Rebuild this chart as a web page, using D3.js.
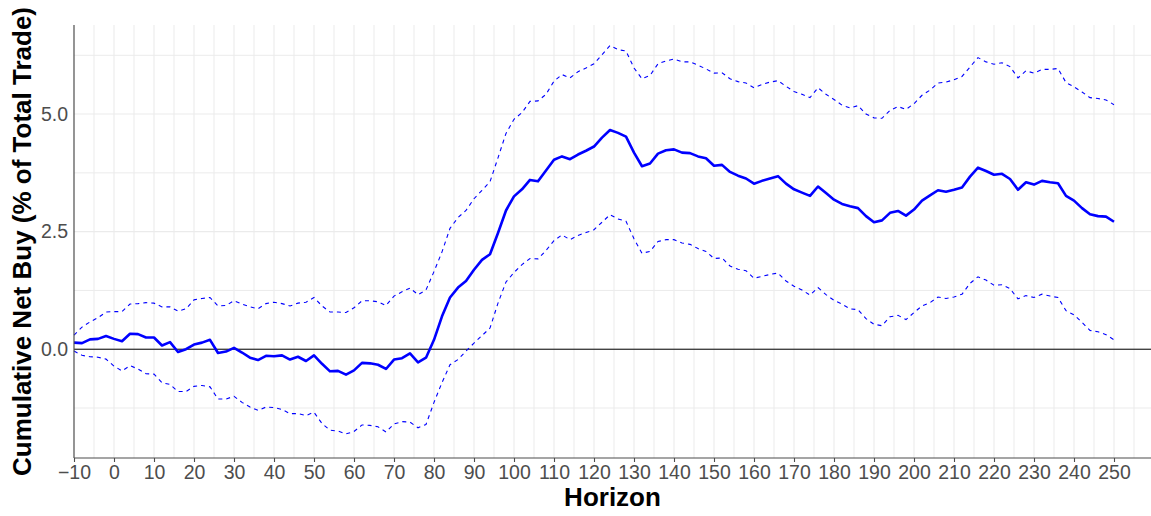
<!DOCTYPE html>
<html>
<head>
<meta charset="utf-8">
<script src="https://cdn.jsdelivr.net/npm/d3@7"></script>
<style>
  html, body { margin: 0; padding: 0; background: #fff; }
  svg { display: block; font-family: "Liberation Sans", Arial, sans-serif; }
</style>
</head>
<body>
<svg id="chart" width="1151" height="516"></svg>
<script>
// ---- data ----
const horizon = d3.range(-10, 251, 2);
const meanBuy = [0.14,0.13,0.21,0.22,0.28,0.22,0.17,0.33,0.32,0.25,0.25,0.08,0.15,-0.06,0.0,0.1,0.14,0.2,-0.08,-0.05,
  0.03,-0.07,-0.18,-0.23,-0.14,-0.15,-0.13,-0.22,-0.16,-0.25,-0.13,-0.31,-0.47,-0.46,-0.54,-0.45,-0.29,-0.30,-0.33,-0.42,
  -0.22,-0.19,-0.09,-0.28,-0.18,0.2,0.7,1.1,1.31,1.45,1.69,1.9,2.02,2.47,2.95,3.25,3.4,3.6,3.57,3.8,
  4.03,4.1,4.04,4.14,4.22,4.31,4.5,4.66,4.6,4.52,4.18,3.89,3.95,4.16,4.23,4.25,4.18,4.17,4.1,4.06,
  3.9,3.92,3.77,3.69,3.63,3.52,3.58,3.63,3.68,3.52,3.4,3.33,3.26,3.46,3.32,3.18,3.09,3.04,3.0,2.83,
  2.7,2.74,2.9,2.94,2.84,2.97,3.16,3.27,3.38,3.35,3.39,3.44,3.67,3.86,3.79,3.71,3.73,3.62,3.39,3.55,
  3.5,3.58,3.55,3.53,3.26,3.16,3.0,2.87,2.83,2.82,2.71];
const upperBuy = [0.30,0.47,0.58,0.67,0.79,0.8,0.8,0.96,0.97,0.99,0.98,0.9,0.9,0.81,0.86,1.05,1.08,1.1,0.92,0.93,
  1.03,0.96,0.9,0.86,0.97,1.0,0.97,0.92,0.98,1.0,1.1,0.92,0.79,0.79,0.78,0.88,1.03,1.03,1.01,0.93,
  1.13,1.22,1.3,1.16,1.26,1.65,2.07,2.57,2.8,2.95,3.2,3.38,3.56,4.07,4.59,4.89,5.03,5.27,5.28,5.42,
  5.7,5.84,5.77,5.9,5.98,6.07,6.26,6.46,6.37,6.34,5.98,5.75,5.82,6.07,6.13,6.17,6.11,6.11,6.04,5.96,
  5.87,5.88,5.75,5.69,5.66,5.56,5.63,5.68,5.71,5.59,5.48,5.42,5.35,5.56,5.42,5.31,5.19,5.13,5.18,5.0,
  4.92,4.91,5.08,5.16,5.1,5.22,5.4,5.51,5.66,5.68,5.73,5.8,6.0,6.2,6.11,6.06,6.09,6.01,5.77,5.92,
  5.87,5.95,5.95,5.97,5.67,5.58,5.47,5.35,5.33,5.3,5.2];
const lowerBuy = [-0.04,-0.13,-0.16,-0.17,-0.21,-0.36,-0.46,-0.35,-0.42,-0.52,-0.53,-0.71,-0.75,-0.9,-0.9,-0.79,-0.77,-0.8,-1.06,-1.06,
  -1.0,-1.13,-1.23,-1.3,-1.23,-1.24,-1.28,-1.37,-1.37,-1.41,-1.34,-1.58,-1.72,-1.74,-1.8,-1.75,-1.61,-1.62,-1.65,-1.76,
  -1.59,-1.54,-1.55,-1.67,-1.6,-1.13,-0.71,-0.33,-0.22,-0.04,0.13,0.29,0.45,0.98,1.43,1.63,1.8,1.93,1.92,2.1,
  2.31,2.43,2.33,2.42,2.48,2.54,2.7,2.86,2.77,2.72,2.35,2.04,2.08,2.29,2.33,2.33,2.26,2.23,2.14,2.08,
  1.93,1.94,1.77,1.7,1.67,1.51,1.55,1.59,1.62,1.45,1.34,1.26,1.15,1.31,1.16,1.04,0.96,0.86,0.84,0.65,
  0.53,0.5,0.69,0.72,0.63,0.78,0.92,0.99,1.11,1.08,1.11,1.17,1.4,1.54,1.47,1.36,1.37,1.29,1.07,1.14,
  1.1,1.17,1.13,1.1,0.82,0.73,0.57,0.4,0.37,0.31,0.2];
const xTicks = d3.range(-10, 251, 10);
const xMinor = d3.range(-5, 260, 10);
const yTicks = [0, 2.5, 5.0];
const yMinor = [-1.25, 1.25, 3.75, 6.25];
const xTitle = "Horizon";
const yTitle = "Cumulative Net Buy (% of Total Trade)";

// ---- layout ----
const svg = d3.select("#chart");
const L = 74, R = 1151, T = 25, B = 458;
const x = d3.scaleLinear().domain([-10, 259.25]).range([L, R]);
const y = d3.scaleLinear().domain([-2.313, 6.894]).range([B, T]);

const grid = svg.append("g");
grid.selectAll(".vmin").data(xMinor).join("line")
  .attr("x1", d => x(d)).attr("x2", d => x(d)).attr("y1", T).attr("y2", B)
  .attr("stroke", "#ebebeb").attr("stroke-width", 1);
grid.selectAll(".vmaj").data(xTicks.filter(d => d > -10)).join("line")
  .attr("x1", d => x(d)).attr("x2", d => x(d)).attr("y1", T).attr("y2", B)
  .attr("stroke", "#ebebeb").attr("stroke-width", 1.1);
grid.selectAll(".hmin").data(yMinor).join("line")
  .attr("x1", L).attr("x2", R).attr("y1", d => y(d)).attr("y2", d => y(d))
  .attr("stroke", "#ebebeb").attr("stroke-width", 1);
grid.selectAll(".hmaj").data(yTicks).join("line")
  .attr("x1", L).attr("x2", R).attr("y1", d => y(d)).attr("y2", d => y(d))
  .attr("stroke", "#ebebeb").attr("stroke-width", 1.1);

// zero line
svg.append("line").attr("x1", L).attr("x2", R).attr("y1", y(0)).attr("y2", y(0))
  .attr("stroke", "#000").attr("stroke-width", 1);

// series
const mk = vals => d3.line().x((d, i) => x(horizon[i])).y(d => y(d))(vals);
svg.append("path").attr("d", mk(upperBuy)).attr("fill", "none")
  .attr("stroke", "#0000ff").attr("stroke-width", 1.1).attr("stroke-dasharray", "4,4");
svg.append("path").attr("d", mk(lowerBuy)).attr("fill", "none")
  .attr("stroke", "#0000ff").attr("stroke-width", 1.1).attr("stroke-dasharray", "4,4");
svg.append("path").attr("d", mk(meanBuy)).attr("fill", "none")
  .attr("stroke", "#0000ff").attr("stroke-width", 2.6).attr("stroke-linejoin", "round");

// axes
const xAxis = svg.append("g").attr("transform", `translate(0,${B})`)
  .call(d3.axisBottom(x).tickValues(xTicks).tickSize(4).tickPadding(3)
    .tickFormat(d => d < 0 ? "\u2212" + Math.abs(d) : d));
xAxis.select(".domain").attr("stroke", "#4d4d4d").attr("stroke-width", 1.2).attr("d", `M${L},0H${R}`);
xAxis.selectAll(".tick line").attr("stroke", "#4d4d4d").attr("stroke-width", 1.1);
xAxis.selectAll(".tick text").attr("fill", "#4d4d4d").attr("font-size", 19.5)
  .attr("font-family", "Liberation Sans, Arial, sans-serif");

const yAxis = svg.append("g").attr("transform", `translate(${L},0)`)
  .call(d3.axisLeft(y).tickValues(yTicks).tickSize(0).tickPadding(6).tickFormat(d3.format(".1f")));
yAxis.select(".domain").attr("stroke", "#4d4d4d").attr("stroke-width", 1.2).attr("d", `M0,${T}V${B}`);
yAxis.selectAll(".tick text").attr("fill", "#4d4d4d").attr("font-size", 19.5)
  .attr("font-family", "Liberation Sans, Arial, sans-serif");

// titles
svg.append("text").attr("x", (L + R) / 2).attr("y", 506).attr("text-anchor", "middle")
  .attr("font-size", 26).attr("font-weight", "bold").attr("fill", "#000").text(xTitle);
svg.append("text").attr("transform", `translate(31,${(T + B) / 2}) rotate(-90)`)
  .attr("text-anchor", "middle").attr("font-size", 26).attr("font-weight", "bold")
  .attr("fill", "#000").text(yTitle);
</script>
</body>
</html>
